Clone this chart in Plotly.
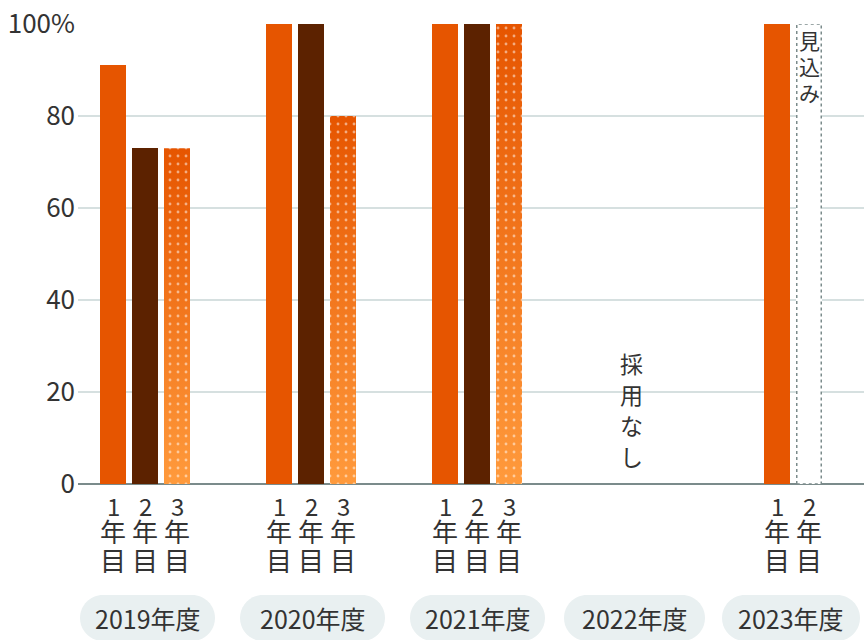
import plotly.graph_objects as go

# ---------------- data ----------------
years = ["2019年度", "2020年度", "2021年度", "2022年度", "2023年度"]
slot_digits = ["1", "2", "3"]
first_year = [91, 100, 100, None, 100]      # 1年目
second_year = [73, 100, 100, None, None]    # 2年目
third_year = [73, 80, 100, None, None]      # 3年目
forecast_second = [None, None, None, None, 100]  # 2年目（見込み）
y_tickvals = [0, 20, 40, 60, 80, 100]
y_ticktext = ["0", "20", "40", "60", "80", "100%"]
no_hire_text = "採用なし"
forecast_text = "見込み"

# ---------------- layout constants (px) ----------------
W, H = 864, 640
X0, X1 = 78, 864
TOP, BOTTOM = 24, 484
GROUP_START, GROUP_STEP, SLOT_STEP, BAR_W = 113, 166, 32, 26
PILL_CX = [147.5, 312.5, 477.5, 634.5, 791]
PILL_W = [135, 145, 135, 141, 138]
PILL_YC, PILL_H = 618, 46
NO_HIRE_X = 631
LABEL_CY = [505, 530, 559.5]          # centres of "n", "年", "目"
LABEL_H = [22, 27, 27]
NO_HIRE_CY = [362, 393, 424, 455]
FORECAST_CY = [40.5, 66, 91.5]

FONT = "Noto Sans CJK JP"
TXT = "#333333"
ORANGE = "#e65500"
BROWN = "#5c2200"
GRAD_LIGHT = "#ff9a3c"
GRID = "#d6e0e0"
AXIS = "#7b8b8b"
PILL_BG = "#e9f0f1"


def slot_x(s):
    return [GROUP_START + GROUP_STEP * g + SLOT_STEP * s for g in range(len(years))]


def px_x(px):
    return (px - X0) / (X1 - X0)


def px_y(py):
    return (BOTTOM - py) / (BOTTOM - TOP)


fig = go.Figure()

# gradient fill for the 3年目 bars (drawn beneath the dotted pattern)
for xc, v in zip(slot_x(2), third_year):
    if v is None:
        continue
    fig.add_trace(go.Scatter(
        x=[xc - BAR_W / 2, xc + BAR_W / 2, xc + BAR_W / 2, xc - BAR_W / 2, xc - BAR_W / 2],
        y=[0, 0, v, v, 0],
        mode="lines", fill="toself", line=dict(width=0),
        fillgradient=dict(type="vertical", colorscale=[[0, GRAD_LIGHT], [1, ORANGE]]),
        hoverinfo="skip", showlegend=False, xaxis="x", yaxis="y",
    ))

fig.add_trace(go.Bar(x=slot_x(0), y=first_year, width=BAR_W, marker=dict(color=ORANGE, line=dict(width=0)),
                     name="1年目", xaxis="x2", yaxis="y", showlegend=False))
fig.add_trace(go.Bar(x=slot_x(1), y=second_year, width=BAR_W, marker=dict(color=BROWN, line=dict(width=0)),
                     name="2年目", xaxis="x2", yaxis="y", showlegend=False))
fig.add_trace(go.Bar(x=slot_x(2), y=third_year, width=BAR_W,
                     marker=dict(color="rgba(0,0,0,0)", line=dict(width=0),
                                 pattern=dict(shape=".", fgcolor="#ffffff", bgcolor="rgba(0,0,0,0)",
                                              size=8, solidity=0.1)),
                     name="3年目", xaxis="x2", yaxis="y", showlegend=False))
fig.add_trace(go.Bar(x=slot_x(1), y=forecast_second, width=BAR_W, marker=dict(color="#ffffff", line=dict(width=0)),
                     name="2年目（見込み）", xaxis="x2", yaxis="y", showlegend=False))

shapes = []
annotations = []


def vtext(x, xref, chars, centers, sizes, heights):
    for ch, cy, sz, hh in zip(chars, centers, sizes, heights):
        annotations.append(dict(x=x, xref=xref, xanchor="center", y=px_y(cy), yref="paper",
                                yanchor="middle", showarrow=False, text=ch, height=hh,
                                font=dict(family=FONT, size=sz, color=TXT)))


# dashed outline of forecast bar + 見込み
for xc, v in zip(slot_x(1), forecast_second):
    if v is None:
        continue
    shapes.append(dict(type="rect", xref="x", yref="y", x0=xc - BAR_W / 2 + 0.75, x1=xc + BAR_W / 2 - 0.75,
                       y0=0, y1=v, line=dict(color=AXIS, width=1.5, dash="3px,3px"), layer="above"))
    vtext(xc, "x", list(forecast_text), FORECAST_CY, [21] * 3, [24] * 3)

# slot labels under bars
for s, series in enumerate([first_year, second_year, third_year]):
    for g, (xc, v) in enumerate(zip(slot_x(s), series)):
        has = v is not None or (s == 1 and forecast_second[g] is not None)
        if not has:
            continue
        vtext(xc, "x", [slot_digits[s], "年", "目"], LABEL_CY, [24, 26, 26], LABEL_H)

# no-hire text
vtext(NO_HIRE_X, "x", list(no_hire_text), NO_HIRE_CY, [23] * 4, [29] * 4)

# year pills
K = 0.5523
for cx, w, label in zip(PILL_CX, PILL_W, years):
    r = PILL_H / 2
    l, rgt = cx - w / 2, cx + w / 2
    t, b = PILL_YC - PILL_H / 2, PILL_YC + PILL_H / 2

    def P(x, y):
        return f"{px_x(x):.5f},{px_y(y):.5f}"
    path = (f"M {P(l + r, t)} L {P(rgt - r, t)} "
            f"C {P(rgt - r + K * r, t)} {P(rgt, t + r - K * r)} {P(rgt, t + r)} "
            f"C {P(rgt, t + r + K * r)} {P(rgt - r + K * r, b)} {P(rgt - r, b)} "
            f"L {P(l + r, b)} "
            f"C {P(l + r - K * r, b)} {P(l, t + r + K * r)} {P(l, t + r)} "
            f"C {P(l, t + r - K * r)} {P(l + r - K * r, t)} {P(l + r, t)} Z")
    shapes.append(dict(type="path", xref="paper", yref="paper", path=path,
                       fillcolor=PILL_BG, line=dict(width=0), layer="below"))
    annotations.append(dict(x=px_x(cx), xref="paper", xanchor="center", y=px_y(PILL_YC), yref="paper",
                            yanchor="middle", showarrow=False, text=label,
                            font=dict(family=FONT, size=25, color=TXT)))

fig.update_layout(
    width=W, height=H,
    margin=dict(l=X0, r=W - X1, t=TOP, b=H - BOTTOM, pad=0),
    paper_bgcolor="#ffffff", plot_bgcolor="#ffffff",
    barmode="overlay", bargap=0,
    showlegend=False,
    hovermode=False,
    xaxis=dict(range=[X0, X1], visible=False, fixedrange=True),
    xaxis2=dict(range=[X0, X1], overlaying="x", matches="x", visible=False),
    yaxis=dict(range=[0, 100], tickvals=y_tickvals, ticktext=y_ticktext,
               showgrid=True, gridcolor=GRID, gridwidth=2,
               zeroline=True, zerolinecolor=AXIS, zerolinewidth=2,
               showline=False, ticks="", ticklabelstandoff=2, fixedrange=True,
               tickfont=dict(family=FONT, size=26, color=TXT)),
    shapes=shapes,
    annotations=annotations,
)

fig.write_html("out.html", config={"displayModeBar": False},
               post_script="document.body.style.margin='0';")
